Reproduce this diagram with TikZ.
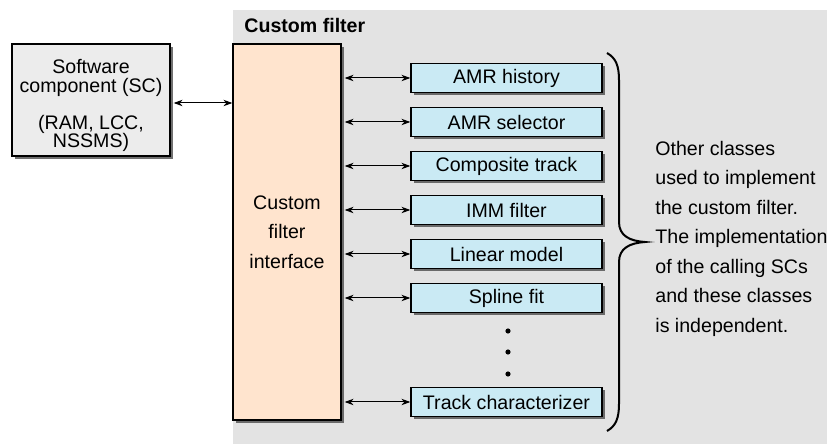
\documentclass[tikz,border=0pt]{standalone}
\usepackage{fontspec}
\setmainfont{Liberation Sans}
\usetikzlibrary{arrows.meta,shadows,positioning}

\definecolor{bggray}{RGB}{227,227,227}
\definecolor{scgray}{RGB}{236,236,236}
\definecolor{ifpeach}{RGB}{255,228,206}
\definecolor{clblue}{RGB}{202,234,244}

\begin{document}
\begin{tikzpicture}[x=0.5pt,y=-0.5pt,
    font=\fontsize{9.8pt}{14.75pt}\selectfont,
    every node/.style={inner sep=0pt},
    boxshadow/.style={drop shadow={shadow xshift=1.4pt,shadow yshift=-1.4pt,fill=black!70,opacity=0.8}},
    swbox/.style={draw=black,line width=0.6pt,fill=scgray,boxshadow,
        minimum width=79pt,minimum height=56pt,align=center,
        font=\fontsize{9.8pt}{9.5pt}\selectfont},
    ifbox/.style={draw=black,line width=0.6pt,fill=ifpeach,boxshadow,
        minimum width=54pt,minimum height=188pt,align=center},
    classbox/.style={draw=black,line width=0.6pt,fill=clblue,boxshadow,
        minimum width=95.5pt,minimum height=14.5pt},
    link/.style={{Stealth[length=4.5pt,width=3.2pt]}-{Stealth[length=4.5pt,width=3.2pt]},line width=0.5pt}]
            \def\classX{506.5}
            \def\dotX{508}

            \useasboundingbox (0,0) rectangle (827,444);
            \fill[bggray] (233,10) rectangle (827,444);

            \node[anchor=base west,font=\fontsize{9.8pt}{14.75pt}\selectfont\bfseries] (title) at (244,33) {Custom filter};

            % left side
            \node[swbox] (sc) at (91,100) {\rule{0pt}{12.5pt}Software\\component (SC)\\[9pt](RAM, LCC,\\[-0.5pt]NSSMS)};
            \node[ifbox] (iface) at (287,232) {Custom\\filter\\interface};

            % classes used by the filter
            \node[classbox] (hist) at (\classX,78) {AMR history};
            \node[classbox] (sel) at (\classX,122) {AMR selector};
            \node[classbox] (comp) at (\classX,166) {Composite track};
            \node[classbox] (imm) at (\classX,210) {IMM filter};
            \node[classbox] (lin) at (\classX,254) {Linear model};
            \node[classbox] (spl) at (\classX,298) {Spline fit};
            \node[classbox] (trk) at (\classX,402) {Track characterizer};

            \fill (\dotX,331) circle (1.3pt);
            \fill (\dotX,352) circle (1.3pt);
            \fill (\dotX,374) circle (1.3pt);

            \draw[link] ([yshift=-1.5pt]sc.east) ++(1.5pt,0) -- ([yshift=-1.5pt]sc.east -| iface.west);
            \draw[link] ([xshift=1.5pt]hist.west -| iface.east) -- (hist.west);
            \draw[link] ([xshift=1.5pt]sel.west -| iface.east) -- (sel.west);
            \draw[link] ([xshift=1.5pt]comp.west -| iface.east) -- (comp.west);
            \draw[link] ([xshift=1.5pt]imm.west -| iface.east) -- (imm.west);
            \draw[link] ([xshift=1.5pt]lin.west -| iface.east) -- (lin.west);
            \draw[link] ([xshift=1.5pt]spl.west -| iface.east) -- (spl.west);
            \draw[link] ([xshift=1.5pt]trk.west -| iface.east) -- (trk.west);

            % brace and note
            \coordinate (tip) at (645,242);
            \draw[line width=1pt] (607,53) .. controls (616,58) and (619,66) .. (619,80)
                -- (619,222) .. controls (619,236) and (630,241) .. (tip)
                .. controls (630,243) and (619,248) .. (619,262)
                -- (619,404) .. controls (619,418) and (616,426) .. (607,431);
            \node[anchor=west,align=left] (note) at (655,238.5) {Other classes\\used to implement\\the custom filter.\\The implementation\\of the calling SCs\\and these classes\\is independent.};
        \end{tikzpicture}
\end{document}
